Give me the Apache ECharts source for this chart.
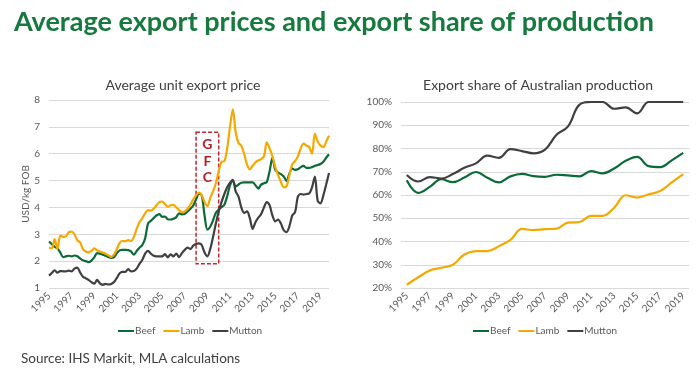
<!DOCTYPE html>
<html>
<head>
<meta charset="utf-8">
<script src="https://cdn.jsdelivr.net/npm/echarts@6/dist/echarts.min.js"></script>
<style>
html,body{margin:0;padding:0;background:#fff;}
#c{width:700px;height:373px;}
</style>
</head>
<body>
<div id="c"></div>
<script>
// ---- Left chart: quarterly average unit export price (USD/kg FOB), 1995 Q1 - 2019 Q4
const years = [];
for (let y = 1995; y <= 2019; y++) years.push(y);
const quarterCats = [];
years.forEach(function (y) { ['Q1','Q2','Q3','Q4'].forEach(function (q) { quarterCats.push(y + ' ' + q); }); });

const priceBeef = [
  2.73,2.63,2.53,2.47, 2.32,2.15,2.18,2.20, 2.18,2.21,2.18,2.10, 2.03,2.00,1.96,2.02,
  2.14,2.30,2.28,2.24, 2.20,2.15,2.12,2.15, 2.30,2.40,2.42,2.42, 2.41,2.36,2.24,2.38,
  2.50,2.60,2.85,3.40, 3.50,3.60,3.70,3.75, 3.65,3.66,3.56,3.55, 3.58,3.64,3.78,3.74,
  3.76,3.85,3.95,4.07, 4.30,4.50,4.45,3.70, 3.17,3.28,3.52,3.80, 3.92,4.01,4.10,4.42,
  4.82,5.00,4.78,4.85, 4.92,4.93,4.93,4.93, 4.93,4.83,4.70,4.85, 4.90,4.95,5.35,5.85,
  5.40,5.30,5.24,5.15, 4.98,5.26,5.45,5.40, 5.42,5.50,5.55,5.47, 5.47,5.50,5.55,5.58,
  5.62,5.70,5.85,5.98
];
const priceLamb = [
  2.50,2.48,2.82,2.45, 2.95,2.90,2.92,3.08, 3.10,3.00,2.78,2.70, 2.45,2.36,2.33,2.38,
  2.48,2.40,2.36,2.32, 2.28,2.22,2.16,2.25, 2.45,2.68,2.75,2.74, 2.78,2.75,2.90,3.20,
  3.45,3.60,3.78,3.90, 3.88,3.95,4.08,4.20, 4.22,4.12,4.03,4.08, 4.10,4.00,3.90,3.82,
  3.85,3.95,4.10,4.30, 4.45,4.55,4.45,4.20, 4.05,4.35,4.60,4.90, 5.35,5.70,5.72,6.20,
  7.00,7.65,6.80,6.40, 6.30,6.00,5.60,5.42, 5.55,5.68,5.75,5.80, 5.90,6.42,6.20,5.90,
  5.50,5.20,4.95,4.75, 4.80,5.20,5.60,5.72, 5.90,6.20,6.38,6.30, 6.25,6.00,6.75,6.45,
  6.30,6.25,6.45,6.67
];
const priceMutton = [
  1.46,1.56,1.66,1.57, 1.63,1.62,1.62,1.65, 1.62,1.72,1.76,1.58, 1.42,1.36,1.30,1.22,
  1.16,1.30,1.17,1.12, 1.15,1.13,1.15,1.22, 1.38,1.55,1.60,1.60, 1.70,1.62,1.63,1.72,
  1.90,2.05,2.28,2.38, 2.28,2.20,2.18,2.18, 2.18,2.26,2.14,2.25, 2.18,2.28,2.15,2.30,
  2.42,2.50,2.45,2.58, 2.64,2.66,2.60,2.32, 2.18,2.45,2.90,3.40, 3.85,4.20,4.50,4.75,
  4.92,5.03,4.60,4.40, 4.00,3.80,3.85,3.60, 3.20,3.45,3.62,3.75, 4.00,4.20,4.08,3.70,
  3.48,3.55,3.40,3.15, 3.08,3.30,3.70,3.82, 4.40,4.50,4.48,4.50, 4.52,4.75,5.15,4.25,
  4.15,4.45,4.85,5.28
];

// ---- Right chart: export share of Australian production (%), annual 1995 - 2019
const yearCats = years.map(String);
const shareBeef = [66.3,60.9,63.5,66.8,65.5,67.5,69.9,67.4,65.4,68.0,69.1,68.1,67.8,68.7,68.4,68.0,70.3,69.3,71.4,74.7,76.4,72.4,72.0,74.9,78.1];
const shareLamb = [21.4,24.6,27.5,28.7,30.0,34.4,35.9,35.9,38.0,40.7,45.4,44.9,45.3,45.5,48.1,48.4,51.0,51.0,54.5,59.9,58.9,60.3,61.7,65.4,69.0];
const shareMutton = [68.6,65.8,67.7,67.1,69.0,71.7,73.6,76.9,76.0,79.7,78.9,77.9,79.5,85.9,89.5,98.9,100,100,97.1,97.7,95.1,100,100,100,100];

const seriesNames = ['Beef','Lamb','Mutton'];
const colors = ['#0b6b37','#f5a800','#404040'];
const FONT = 'Lato';
const txtGray = '#595959';

const gfcStart = '2008 Q1', gfcEnd = '2010 Q1';
const gfcTop = 6.8, gfcBottom = 1.9;

const chart = echarts.init(document.getElementById('c'), null, {renderer: 'canvas'});

function lineSeries(name, data, color, xi, yi, smooth, extra) {
  return Object.assign({
    name: name, type: 'line', data: data, xAxisIndex: xi, yAxisIndex: yi,
    showSymbol: false, symbol: 'none', smooth: smooth,
    lineStyle: {color: color, width: 2.2}, itemStyle: {color: color}, z: 3
  }, extra || {});
}

const legendBase = {data: seriesNames, top: 321, itemWidth: 16, itemHeight: 2, itemGap: 8, icon: 'rect',
  textStyle: {fontFamily: FONT, fontSize: 10, color: txtGray, padding: [0,0,0,-4]}};

chart.setOption({
  animation: false,
  textStyle: {fontFamily: FONT},
  title: [
    {text: 'Average export prices and export share of production', left: 9, top: 4,
     textStyle: {fontFamily: FONT, fontSize: 27, fontWeight: 'bold', color: '#16793d'}},
    {text: 'Average unit export price', left: 178, top: 73, textAlign: 'center',
     textStyle: {fontFamily: FONT, fontSize: 14, fontWeight: 'normal', color: '#404040'}},
    {text: 'Export share of Australian production', left: 533, top: 73, textAlign: 'center',
     textStyle: {fontFamily: FONT, fontSize: 14, fontWeight: 'normal', color: '#404040'}},
    {text: 'Source: IHS Markit, MLA calculations', left: 16, top: 347,
     textStyle: {fontFamily: FONT, fontSize: 13.5, fontWeight: 'normal', color: '#404040'}}
  ],
  legend: [
    Object.assign({}, legendBase, {left: 113}),
    Object.assign({}, legendBase, {left: 468})
  ],
  grid: [
    {left: 49, top: 100, width: 280, height: 188, containLabel: false},
    {left: 401, top: 102, width: 288, height: 186, containLabel: false}
  ],
  xAxis: [
    {type: 'category', gridIndex: 0, data: quarterCats, boundaryGap: false,
     axisLine: {show: false}, axisTick: {show: false},
     axisLabel: {interval: 7, rotate: 45, fontSize: 10, color: txtGray, fontFamily: FONT, margin: 6,
       formatter: function (v) { return v.slice(0, 4); }}},
    {type: 'category', gridIndex: 1, data: yearCats, boundaryGap: true,
     axisLine: {show: false}, axisTick: {show: false},
     axisLabel: {interval: 1, rotate: 45, fontSize: 10, color: txtGray, fontFamily: FONT, margin: 6}}
  ],
  yAxis: [
    {type: 'value', gridIndex: 0, min: 1, max: 8, interval: 1,
     name: 'USD/kg FOB', nameLocation: 'middle', nameGap: 17, nameRotate: 90,
     nameTextStyle: {fontSize: 10, color: txtGray, fontFamily: FONT},
     axisLine: {show: false}, axisTick: {show: false},
     axisLabel: {fontSize: 10, color: txtGray, fontFamily: FONT, margin: 9},
     splitLine: {lineStyle: {color: '#d9d9d9', width: 1}}},
    {type: 'value', gridIndex: 1, min: 20, max: 100, interval: 10,
     axisLine: {show: false}, axisTick: {show: false},
     axisLabel: {fontSize: 10, color: txtGray, fontFamily: FONT, margin: 9, formatter: '{value}%'},
     splitLine: {lineStyle: {color: '#d9d9d9', width: 1}}}
  ],
  series: [
    lineSeries('Beef', priceBeef, colors[0], 0, 0, 0.3, {
      markArea: {silent: true,
        itemStyle: {color: 'rgba(0,0,0,0)', borderColor: '#c0282d', borderWidth: 1.5, borderType: [4, 2]},
        label: {show: true, position: 'insideTop', distance: 5, formatter: 'G\nF\nC', color: '#b22025',
          fontFamily: FONT, fontWeight: 'bold', fontSize: 14, lineHeight: 16.5},
        data: [[{xAxis: gfcStart, yAxis: gfcTop}, {xAxis: gfcEnd, yAxis: gfcBottom}]]}}),
    lineSeries('Lamb', priceLamb, colors[1], 0, 0, 0.3),
    lineSeries('Mutton', priceMutton, colors[2], 0, 0, 0.3),
    lineSeries('Beef', shareBeef, colors[0], 1, 1, 0.4),
    lineSeries('Lamb', shareLamb, colors[1], 1, 1, 0.4),
    lineSeries('Mutton', shareMutton, colors[2], 1, 1, 0.4)
  ]
});
</script>
</body>
</html>
